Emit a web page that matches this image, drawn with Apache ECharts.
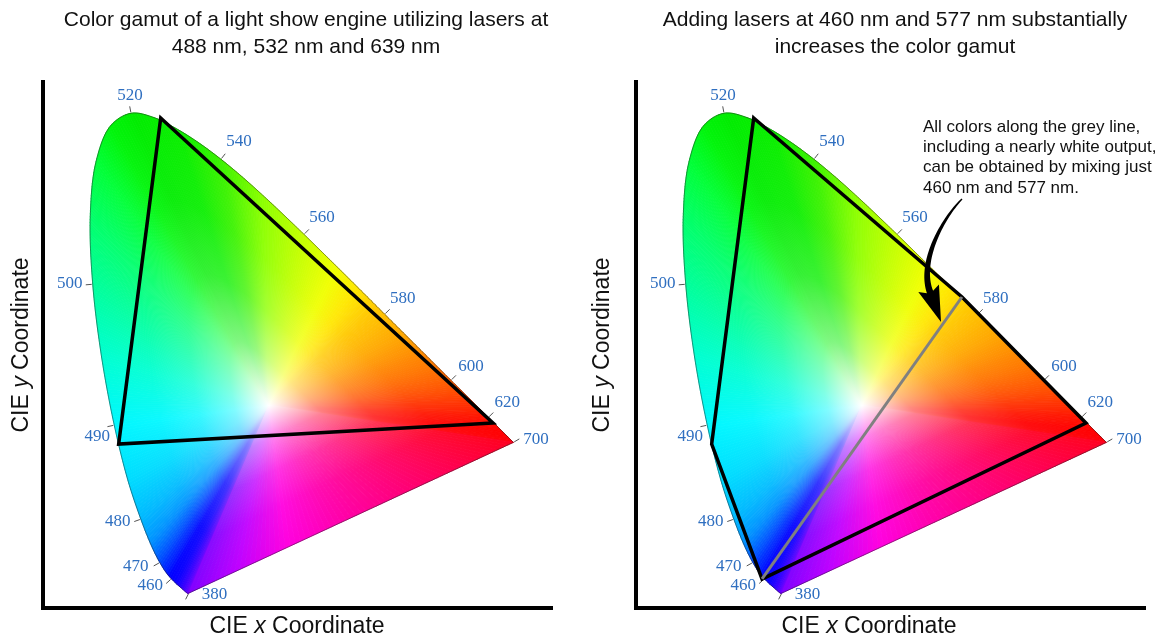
<!DOCTYPE html>
<html><head><meta charset="utf-8">
<script src="https://cdn.jsdelivr.net/npm/echarts@6/dist/echarts.min.js"></script>
<style>html,body{margin:0;padding:0;background:#fff}#c{width:1160px;height:639px}</style>
</head><body><div id="c"></div>
<script>
// ---- data ----
const wavelengths = [380,385,390,395,400,405,410,415,420,425,430,435,440,445,450,455,460,465,470,475,480,485,490,495,500,505,510,515,520,525,530,535,540,545,550,555,560,565,570,575,580,585,590,595,600,605,610,615,620,625,630,635,640,645,650,660,680,700];
const locusX = [0.1741,0.1740,0.1738,0.1736,0.1733,0.1730,0.1726,0.1721,0.1714,0.1703,0.1689,0.1669,0.1644,0.1611,0.1566,0.1510,0.1440,0.1355,0.1241,0.1096,0.0913,0.0687,0.0454,0.0235,0.0082,0.0039,0.0139,0.0389,0.0743,0.1142,0.1547,0.1929,0.2296,0.2658,0.3016,0.3373,0.3731,0.4087,0.4441,0.4788,0.5125,0.5448,0.5752,0.6029,0.6270,0.6482,0.6658,0.6801,0.6915,0.7006,0.7079,0.7140,0.7190,0.7230,0.7260,0.7300,0.7334,0.7347];
const locusY = [0.0050,0.0050,0.0049,0.0049,0.0048,0.0048,0.0048,0.0048,0.0051,0.0058,0.0069,0.0086,0.0109,0.0138,0.0177,0.0227,0.0297,0.0399,0.0578,0.0868,0.1327,0.2007,0.2950,0.4127,0.5384,0.6548,0.7502,0.8120,0.8338,0.8262,0.8059,0.7816,0.7543,0.7243,0.6923,0.6589,0.6245,0.5896,0.5547,0.5202,0.4866,0.4544,0.4242,0.3965,0.3725,0.3514,0.3340,0.3197,0.3083,0.2993,0.2920,0.2859,0.2809,0.2770,0.2740,0.2700,0.2666,0.2653];
const labelWavelengths = [380,460,470,480,490,500,520,540,560,580,600,620,700];
const whitePoint = [0.3127, 0.3290];
const gamut1Names = ['488 nm','532 nm','639 nm'];
const gamut1X = [0.0530, 0.1256, 0.6995];
const gamut1Y = [0.2625, 0.8256, 0.2988];
const gamut2Names = ['532 nm','577 nm','639 nm','460 nm','488 nm'];
const gamut2X = [0.1256, 0.4853, 0.6995, 0.1400, 0.0530];
const gamut2Y = [0.8256, 0.5164, 0.2988, 0.0294, 0.2625];
const mixLineX = [0.1400, 0.4853];
const mixLineY = [0.0294, 0.5164];
const titles = ['Color gamut of a light show engine utilizing lasers at\n488 nm, 532 nm and 639 nm',
                'Adding lasers at 460 nm and 577 nm substantially\nincreases the color gamut'];
const note = 'All colors along the grey line,\nincluding a nearly white output,\ncan be obtained by mixing just\n460 nm and 577 nm.';

// ---- styles ----
// label placement (pixel offset of the label from its locus point; 'l' = left aligned)
const labelOffsetStyle = {380:[13,1,'l'],460:[-21,7],470:[-24,4],480:[-23,2],490:[-17,11],500:[-23,-1],520:[-1,-18],
  540:[18,-18],560:[18,-17],580:[18,-16],600:[20,-14],620:[19,-15],700:[10,-3,'l']};
const edgeStops = [[380,'#8000ff'],[420,'#7000ff'],[440,'#4000ff'],[455,'#0a00ff'],[462,'#0000ff'],[468,'#0030ff'],[472,'#0060ff'],[476,'#0095ff'],[480,'#00b8ff'],[485,'#00dcff'],[490,'#00f8ff'],[495,'#00ffd2'],[500,'#00ff9c'],[505,'#00ff6a'],[510,'#00ff38'],[515,'#00f50a'],[520,'#00ec00'],[530,'#0aee00'],[540,'#3cf200'],[550,'#8cff00'],[560,'#c4ff00'],[568,'#f0ff00'],[573,'#ffe800'],[578,'#ffc800'],[585,'#ffa800'],[592,'#ff8400'],[600,'#ff6000'],[610,'#ff3400'],[620,'#ff1400'],[635,'#ff0000'],[700,'#ff0010']];
const purpleStops = [[0,'#ff0020'],[0.3,'#ff0070'],[0.55,'#ff00b0'],[0.7,'#ff00e0'],[0.85,'#c000ff'],[1,'#8000ff']];
function hexRgb(h){return [parseInt(h.slice(1,3),16),parseInt(h.slice(3,5),16),parseInt(h.slice(5,7),16)];}
function lerpColor(stops,v){
  if(v<=stops[0][0]) return hexRgb(stops[0][1]);
  for(let i=0;i<stops.length-1;i++){
    const a=stops[i],b=stops[i+1];
    if(v<=b[0]){const t=(v-a[0])/(b[0]-a[0]);const ca=hexRgb(a[1]),cb=hexRgb(b[1]);return ca.map((c,k)=>c+(cb[k]-c)*t);}
  }
  return hexRgb(stops[stops.length-1][1]);
}
function rgb(c){return 'rgb('+c.map(v=>Math.round(v)).join(',')+')';}
function mixW(c,f){return c.map(v=>255+(v-255)*f);}
function gradStops(c){
  return [{offset:0,color:'#ffffff'},{offset:0.08,color:rgb(mixW(c,0.18))},{offset:0.22,color:rgb(mixW(c,0.5))},
          {offset:0.45,color:rgb(mixW(c,0.8))},{offset:0.7,color:rgb(mixW(c,0.95))},{offset:1,color:rgb(c)}];
}

const N = wavelengths.length;
// segment items: [x0,y0,x1,y1, xPrev,yPrev, xNext,yNext, wl0, wl1, isPurple]
const segData = [];
for(let i=0;i<N-1;i++){const ip=Math.max(0,i-1),inx=Math.min(N-1,i+2);
  segData.push([locusX[i],locusY[i],locusX[i+1],locusY[i+1],locusX[ip],locusY[ip],locusX[inx],locusY[inx],wavelengths[i],wavelengths[i+1],0]);}
segData.push([locusX[N-1],locusY[N-1],locusX[0],locusY[0],locusX[N-1],locusY[N-1],locusX[0],locusY[0],wavelengths[N-1],wavelengths[0],1]);
const labelData = labelWavelengths.map(wl=>{const i=wavelengths.indexOf(wl);const ip=Math.max(0,i-1),inx=Math.min(N-1,i+1);
  return [locusX[i],locusY[i],locusX[ip],locusY[ip],locusX[inx],locusY[inx],wl];});
const gamut1Data = gamut1X.map((x,i)=>[x,gamut1Y[i],gamut1Names[i]]);
const gamut2Data = gamut2X.map((x,i)=>[x,gamut2Y[i],gamut2Names[i]]);
const mixData = mixLineX.map((x,i)=>[x,mixLineY[i]]);

// centripetal Catmull-Rom curve between P1 and P2 (drawing only)
function catmull(P0,P1,P2,P3,u){
  const d=(a,b)=>Math.max(1e-3,Math.pow(Math.hypot(b[0]-a[0],b[1]-a[1]),0.5));
  const t0=0,t1=t0+d(P0,P1),t2=t1+d(P1,P2),t3=t2+d(P2,P3);
  const t=t1+(t2-t1)*u;
  const L=(A,B,ta,tb)=>[((tb-t)*A[0]+(t-ta)*B[0])/(tb-ta),((tb-t)*A[1]+(t-ta)*B[1])/(tb-ta)];
  const A1=L(P0,P1,t0,t1),A2=L(P1,P2,t1,t2),A3=L(P2,P3,t2,t3);
  const B1=L(A1,A2,t0,t2),B2=L(A2,A3,t1,t3);
  return L(B1,B2,t1,t2);
}
function segCurve(api){
  const a=api.coord([api.value(0),api.value(1)]), b=api.coord([api.value(2),api.value(3)]);
  const pp=api.coord([api.value(4),api.value(5)]), pn=api.coord([api.value(6),api.value(7)]);
  const purple=api.value(10)===1;
  const len=Math.hypot(b[0]-a[0],b[1]-a[1]);
  const n=purple?64:Math.max(1,Math.ceil(len/3));
  const pts=[];
  for(let k=0;k<=n;k++){const u=k/n; pts.push(purple?[a[0]+(b[0]-a[0])*u,a[1]+(b[1]-a[1])*u]:(k===0?a:(k===n?b:catmull(pp,a,b,pn,u))));}
  return {pts,purple,n};
}
function renderFan(params, api){
  const {pts,purple,n}=segCurve(api);
  const w=api.coord(whitePoint); const w0=api.value(8), w1=api.value(9);
  const children=[];
  for(let k=0;k<n;k++){
    const p0=pts[k],p1=pts[k+1]; const um=(k+0.5)/n;
    const c=purple?lerpColor(purpleStops,um):lerpColor(edgeStops,w0+(w1-w0)*um);
    const m=[(p0[0]+p1[0])/2,(p0[1]+p1[1])/2];
    const g=new echarts.graphic.LinearGradient(w[0],w[1],m[0],m[1],gradStops(c),true);
    children.push({type:'polygon',shape:{points:[[w[0],w[1]],p0,p1]},style:{fill:g,stroke:g,lineWidth:0.9,lineJoin:'round'},silent:true});
  }
  return {type:'group',children};
}
function renderOutline(params, api){
  const {pts}=segCurve(api);
  return {type:'polyline',shape:{points:pts},style:{fill:null,stroke:'rgba(30,30,30,0.6)',lineWidth:0.8},silent:true};
}
function renderLabel(params, api){
  const p=api.coord([api.value(0),api.value(1)]), pp=api.coord([api.value(2),api.value(3)]), pn=api.coord([api.value(4),api.value(5)]);
  const wl=api.value(6); const w=api.coord(whitePoint);
  let tx=pn[0]-pp[0],ty=pn[1]-pp[1]; const L=Math.hypot(tx,ty)||1; tx/=L; ty/=L;
  let nx=ty,ny=-tx;
  if((p[0]-w[0])*nx+(p[1]-w[1])*ny<0){nx=-nx;ny=-ny;}
  if(wl===380){nx=-0.45;ny=0.89;}
  if(wl===700){nx=0.85;ny=-0.5;}
  const o=labelOffsetStyle[wl]||[nx*22,ny*22];
  return {type:'group',children:[
    {type:'line',shape:{x1:p[0]+nx,y1:p[1]+ny,x2:p[0]+nx*7,y2:p[1]+ny*7},style:{stroke:'#555',lineWidth:1}},
    {type:'text',style:{text:String(wl),x:p[0]+o[0],y:p[1]+o[1],align:o[2]==='l'?'left':'center',verticalAlign:'middle',fill:'#2f6fc0',font:'17px "Liberation Serif"'}}
  ]};
}
function renderPoly(params, api){
  if(params.dataIndexInside!==0) return null;
  const pts=[]; for(let i=0;i<params.dataInsideLength;i++) pts.push(api.coord([api.value(0,i),api.value(1,i)]));
  return {type:'polygon',shape:{points:pts},style:{fill:'none',stroke:'#000',lineWidth:3.5,lineJoin:'miter'}};
}

function panelSeries(i, gamut, withMix){
  const s=[
    {type:'custom',xAxisIndex:i,yAxisIndex:i,data:segData,renderItem:renderFan,z:1,silent:true},
    {type:'custom',xAxisIndex:i,yAxisIndex:i,data:segData,renderItem:renderOutline,z:2,silent:true},
    {type:'custom',xAxisIndex:i,yAxisIndex:i,data:labelData,renderItem:renderLabel,z:3,silent:true},
    {type:'custom',xAxisIndex:i,yAxisIndex:i,data:gamut,renderItem:renderPoly,z:4,silent:true}
  ];
  if(withMix) s.push({type:'line',xAxisIndex:i,yAxisIndex:i,data:mixData,symbol:'none',lineStyle:{color:'#808080',width:3},z:5,silent:true});
  return s;
}

function arrowShape(){
  const S=[962,199],C1=[942,219],C2=[919,262],E=[930,292];
  const bez=(t,i)=>(1-t)**3*S[i]+3*(1-t)**2*t*C1[i]+3*(1-t)*t*t*C2[i]+t**3*E[i];
  const der=(t,i)=>3*(1-t)**2*(C1[i]-S[i])+6*(1-t)*t*(C2[i]-C1[i])+3*t*t*(E[i]-C2[i]);
  const Lp=[],Rp=[];const n=40;
  for(let k=0;k<=n;k++){const t=k/n;const x=bez(t,0),y=bez(t,1);let dx=der(t,0),dy=der(t,1);const l=Math.hypot(dx,dy);dx/=l;dy/=l;const hw=0.7+2.6*t;
    Lp.push([x-dy*hw,y+dx*hw]);Rp.push([x+dy*hw,y-dx*hw]);}
  let dx=der(1,0),dy=der(1,1);const l=Math.hypot(dx,dy);dx/=l;dy/=l;
  const hb=11,hl=32,back=4;
  const head=[[E[0]-dx*back-dy*hb,E[1]-dy*back+dx*hb],[E[0]+dx*hl,E[1]+dy*hl],[E[0]-dx*back+dy*hb,E[1]-dy*back-dx*hb]];
  return Lp.concat(head,Rp.reverse());
}

const axisCommon={type:'value',axisTick:{show:false},axisLabel:{show:false},splitLine:{show:false},
  axisLine:{onZero:false,lineStyle:{color:'#000',width:4,cap:'square'}}};
const txtFont='"Liberation Sans", Arial, sans-serif';
function xName(x){return {type:'text',x:x,y:627,silent:true,style:{text:'CIE {i|x} Coordinate',font:'23px '+txtFont,fill:'#111',align:'center',verticalAlign:'middle',
  rich:{i:{fontStyle:'italic',fontSize:23,fontFamily:'Liberation Sans',fill:'#111'}}}};}
function yName(x){return {type:'text',x:x,y:345,rotation:Math.PI/2,silent:true,style:{text:'CIE {i|y} Coordinate',font:'23px '+txtFont,fill:'#111',align:'center',verticalAlign:'middle',
  rich:{i:{fontStyle:'italic',fontSize:23,fontFamily:'Liberation Sans',fill:'#111'}}}};}

const chart=echarts.init(document.getElementById('c'));
chart.setOption({
  animation:false,
  backgroundColor:'#fff',
  grid:[{left:43,top:82,width:508,height:526},{left:636,top:82,width:508,height:526}],
  xAxis:[Object.assign({gridIndex:0,min:-0.0777,max:0.7997},axisCommon),Object.assign({gridIndex:1,min:-0.0777,max:0.7997},axisCommon)],
  yAxis:[Object.assign({gridIndex:0,min:-0.0207,max:0.8877},axisCommon),Object.assign({gridIndex:1,min:-0.0207,max:0.8877},axisCommon)],
  series:panelSeries(0,gamut1Data,false).concat(panelSeries(1,gamut2Data,true)),
  graphic:{elements:[
    {type:'text',x:306,y:7,silent:true,style:{text:titles[0],font:'21px '+txtFont,lineHeight:27,fill:'#111',align:'center',verticalAlign:'top'}},
    {type:'text',x:895,y:7,silent:true,style:{text:titles[1],font:'21px '+txtFont,lineHeight:27,fill:'#111',align:'center',verticalAlign:'top'}},
    xName(297),xName(869),yName(22),yName(603),
    {type:'text',x:923,y:117,silent:true,z:10,style:{text:note,font:'17px '+txtFont,lineHeight:20.3,fill:'#111',align:'left',verticalAlign:'top'}},
    {type:'polygon',silent:true,z:10,shape:{points:arrowShape()},style:{fill:'#000'}}
  ]}
});
</script></body></html>
